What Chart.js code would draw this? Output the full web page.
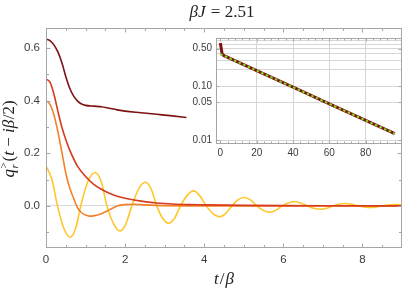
<!DOCTYPE html>
<html>
<head>
<meta charset="utf-8">
<script src="https://cdn.jsdelivr.net/npm/chart.js@4"></script>
<style>
  html, body { margin: 0; padding: 0; background: #fff; }
  #wrap { position: relative; width: 403px; height: 293px; }
  #main { position: absolute; left: 0; top: 0; }
  #inset { position: absolute; left: 180px; top: 28px; }
</style>
</head>
<body>
<div id="wrap">
  <canvas id="main" width="403" height="293"></canvas>
  <canvas id="inset" width="223" height="135"></canvas>
</div>
<script>
// --- main panel data (t/beta, q) ---
const tDark = [0, 0.1, 0.2, 0.3, 0.4, 0.5, 0.6, 0.7, 0.8, 0.9, 1.0, 1.2, 1.4, 1.6, 1.8, 2.0, 2.4, 2.8, 3.2, 3.55];
const qDark = [0.634, 0.628, 0.612, 0.585, 0.545, 0.492, 0.447, 0.417, 0.398, 0.387, 0.382, 0.379, 0.377, 0.371, 0.365, 0.360, 0.354, 0.348, 0.342, 0.336];

const tRed = [0, 0.1, 0.2, 0.3, 0.4, 0.5, 0.6, 0.8, 1.0, 1.2, 1.4, 1.6, 1.8, 2.0, 2.4, 2.8, 3.2, 3.6, 4.0, 5.0, 6.0, 7.0, 9.0];
const qRed = [0.482, 0.470, 0.425, 0.360, 0.300, 0.252, 0.212, 0.150, 0.112, 0.083, 0.063, 0.048, 0.037, 0.029, 0.018, 0.011, 0.007, 0.005, 0.004, 0.002, 0.001, 0.0005, 0.0];

const tOrange = [0, 0.1, 0.2, 0.3, 0.4, 0.5, 0.6, 0.7, 0.8, 0.9, 1.0, 1.1, 1.2, 1.4, 1.6, 1.8, 2.0, 2.2, 2.5, 3.0, 4.0, 5.0, 9.0];
const qOrange = [0.400, 0.386, 0.346, 0.282, 0.205, 0.125, 0.068, 0.028, -0.008, -0.026, -0.035, -0.039, -0.038, -0.030, -0.015, 0.000, 0.005, 0.006, 0.004, 0.001, 0.0, 0.0, 0.0];

const tYellow = [0, 0.15, 0.29, 0.45, 0.61, 0.75, 0.88, 1.05, 1.24, 1.40, 1.54, 1.71, 1.87, 2.02, 2.17, 2.34, 2.51, 2.66, 2.80,
  2.95, 3.10, 3.25, 3.40, 3.57, 3.73, 3.88, 4.05, 4.22, 4.39, 4.54, 4.70, 4.85, 5.00, 5.17, 5.33, 5.49, 5.65, 5.81, 5.97,
  6.12, 6.28, 6.44, 6.61, 6.77, 6.94, 7.10, 7.25, 7.41, 7.57, 7.73, 7.88, 8.04, 8.20, 8.36, 8.52, 8.70, 8.88, 9.0];
const qYellow = [0.152, 0.100, 0, -0.085, -0.119, -0.085, 0, 0.090, 0.127, 0.090, 0, -0.068, -0.095, -0.068, 0, 0.064, 0.090, 0.064, 0,
  -0.047, -0.066, -0.047, 0, 0.040, 0.057, 0.040, 0, -0.029, -0.041, -0.029, 0, 0.023, 0.032, 0.023, 0, -0.017, -0.024, -0.017, 0,
  0.011, 0.016, 0.011, 0, -0.009, -0.013, -0.009, 0, 0.006, 0.009, 0.006, 0, -0.004, -0.006, -0.004, 0, 0.004, 0.005, 0.004];

// --- inset (log scale) ---
const tInset = [0, 0.5, 1, 2, 20, 40, 60, 80, 96];
const qInset = [0.635, 0.50, 0.39, 0.37, 0.195, 0.096, 0.0473, 0.0233, 0.0132];
const tFit = [0, 96];
const qFit = [0.395, 0.0132];

// ticks
const xTicks = [0, 2, 4, 6, 8];
const xMinor = [0.5, 1, 1.5, 2.5, 3, 3.5, 4.5, 5, 5.5, 6.5, 7, 7.5, 8.5];
const yTicks = [0, 0.2, 0.4, 0.6];
const yMinor = [-0.1, 0.1, 0.3, 0.5];
const insetXTicks = [0, 20, 40, 60, 80];
const insetXMinor = [4, 8, 12, 16, 24, 28, 32, 36, 44, 48, 52, 56, 64, 68, 72, 76, 84, 88, 92, 96];
const insetYGrid = [0.01, 0.05, 0.1, 0.2, 0.3, 0.4, 0.5, 0.6, 0.7];
const insetYLabels = [0.01, 0.05, 0.1, 0.5];

const pts = (ts, qs) => ts.map((t, i) => ({ x: t, y: qs[i] }));

const FRAME = '#a6a6a6';
const LABEL = '#3c3c3c';
const SERIF = '"Liberation Serif", "DejaVu Serif", serif';
const SANS = '"Liberation Sans", Arial, sans-serif';

function frameTicks(chart, spec) {
    const ctx = chart.ctx;
    const a = chart.chartArea;
    const x = chart.scales.x, y = chart.scales.y;
    const L = Math.round(a.left) + 0.5, R = Math.round(a.right) - 0.5;
    const T = Math.round(a.top) + 0.5, B = Math.round(a.bottom) - 0.5;
    ctx.save();
    ctx.strokeStyle = FRAME;
    ctx.lineWidth = 1;
    ctx.strokeRect(L, T, R - L, B - T);
    ctx.beginPath();
    const xt = (vals, len) => vals.forEach(v => {
        const p = Math.round(x.getPixelForValue(v)) + 0.5;
        ctx.moveTo(p, B); ctx.lineTo(p, B - len);
        ctx.moveTo(p, T); ctx.lineTo(p, T + len);
    });
    const yt = (vals, len) => vals.forEach(v => {
        const p = Math.round(y.getPixelForValue(v)) + 0.5;
        ctx.moveTo(L, p); ctx.lineTo(L + len, p);
        ctx.moveTo(R, p); ctx.lineTo(R - len, p);
    });
    xt(spec.xMajor, spec.major); xt(spec.xMinor, spec.minor);
    yt(spec.yMajor, spec.major); yt(spec.yMinor, spec.minor);
    ctx.stroke();
    ctx.restore();
}

// draw a row of text pieces with different fonts, centred on cx
function drawRuns(ctx, runs, cx, base) {
    let total = 0;
    runs.forEach(r => {
        ctx.font = r.font;
        r.w = ctx.measureText(r.text).width;
        if (!r.stay) total += r.w + (r.gap || 0);
    });
    let x = cx - total / 2;
    ctx.textAlign = 'left';
    ctx.textBaseline = 'alphabetic';
    runs.forEach(r => {
        ctx.font = r.font;
        ctx.fillText(r.text, x, base + (r.dy || 0));
        if (!r.stay) x += r.w + (r.gap || 0);
    });
}

const labelsPlugin = {
    id: 'labels',
    afterDraw(chart) {
        const ctx = chart.ctx;
        const it = 'italic 17px ' + SERIF, up = '17px ' + SERIF;
        const itS = 'italic 11px ' + SERIF, upS = '11px ' + SERIF;
        ctx.save();
        ctx.fillStyle = '#222';
        // title
        drawRuns(ctx, [
            { text: 'β', font: it }, { text: 'J', font: it, gap: 1 },
            { text: ' = 2.51', font: up }
        ], 222, 17);
        // x title
        drawRuns(ctx, [
            { text: 't', font: it, gap: 1 }, { text: '/', font: up, gap: 1 }, { text: 'β', font: it }
        ], 224, 284);
        // y title
        ctx.translate(14, 139);
        ctx.rotate(-Math.PI / 2);
        drawRuns(ctx, [
            { text: 'q', font: it, gap: 0.5 },
            { text: 'r', font: itS, dy: 4, stay: true },
            { text: '>', font: upS, dy: -7, gap: 1 },
            { text: '(', font: up }, { text: 't', font: it },
            { text: ' − ', font: up }, { text: 'i', font: it }, { text: 'β', font: it, gap: 0.5 },
            { text: '/2)', font: up }
        ], 0, 0);
        ctx.restore();
    }
};

const mainFrame = {
    id: 'mainFrame',
    afterDatasetsDraw(chart) {
        frameTicks(chart, { xMajor: xTicks, xMinor: xMinor, yMajor: yTicks, yMinor: yMinor, major: 4, minor: 2.5 });
    }
};

const line = (data, color) => ({
    data: data, borderColor: color, borderWidth: 1.6, pointRadius: 0,
    cubicInterpolationMode: 'monotone', fill: false
});

new Chart(document.getElementById('main'), {
    type: 'line',
    data: {
        datasets: [
            line(pts(tDark, qDark), '#7d1212'),
            line(pts(tRed, qRed), '#d63c1c'),
            line(pts(tOrange, qOrange), '#f3802a'),
            line(pts(tYellow, qYellow), '#ffc62c')
        ]
    },
    options: {
        responsive: false,
        animation: false,
        layout: { padding: { top: 28, right: 1, left: 0, bottom: 0 } },
        plugins: { legend: { display: false }, tooltip: { enabled: false } },
        scales: {
            x: {
                type: 'linear', min: 0, max: 9,
                afterBuildTicks: s => { s.ticks = xTicks.map(v => ({ value: v })); },
                afterFit: s => { s.height = 45; },
                grid: { display: false, drawTicks: false },
                border: { display: false },
                ticks: { padding: 5, color: LABEL, font: { family: SANS, size: 11.5 }, maxRotation: 0, autoSkip: false, callback: v => String(v) }
            },
            y: {
                type: 'linear', min: -0.16, max: 0.676,
                afterBuildTicks: s => { s.ticks = yTicks.map(v => ({ value: v })); },
                afterFit: s => { s.width = 46; },
                grid: { drawTicks: false, color: c => (c.tick && c.tick.value === 0) ? '#dadada' : 'rgba(0,0,0,0)' },
                border: { display: false },
                ticks: { padding: 6, color: LABEL, font: { family: SANS, size: 11.5 }, autoSkip: false, callback: v => v.toFixed(1) }
            }
        }
    },
    plugins: [mainFrame, labelsPlugin]
});

const insetPlugin = {
    id: 'insetFrame',
    beforeDraw(chart) {
        const a = chart.chartArea;
        chart.ctx.save();
        chart.ctx.fillStyle = '#fff';
        chart.ctx.fillRect(a.left, a.top, a.right - a.left, a.bottom - a.top);
        chart.ctx.restore();
    },
    afterDatasetsDraw(chart) {
        frameTicks(chart, { xMajor: insetXTicks, xMinor: insetXMinor, yMajor: insetYLabels, yMinor: [], major: 3, minor: 2 });
    }
};

new Chart(document.getElementById('inset'), {
    type: 'line',
    data: {
        datasets: [
            { data: pts(tFit, qFit), borderColor: '#7ee020', borderWidth: 2, borderDash: [2.5, 2.5], pointRadius: 0, fill: false },
            { data: pts(tInset, qInset), borderColor: '#7d1212', borderWidth: 3, pointRadius: 0, fill: false }
        ]
    },
    options: {
        responsive: false,
        animation: false,
        layout: { padding: { top: 5, right: 1, left: 0, bottom: 0 } },
        plugins: { legend: { display: false }, tooltip: { enabled: false } },
        scales: {
            x: {
                type: 'linear', min: -2.4, max: 100,
                afterBuildTicks: s => { s.ticks = insetXTicks.map(v => ({ value: v })); },
                afterFit: s => { s.height = 19; },
                grid: { drawTicks: false, color: c => (c.tick && c.tick.value > 0) ? '#d6d6d6' : 'rgba(0,0,0,0)' },
                border: { display: false },
                ticks: { padding: 3, color: LABEL, font: { family: SANS, size: 10 }, maxRotation: 0, autoSkip: false, callback: v => String(v) }
            },
            y: {
                type: 'logarithmic', min: 0.0085, max: 0.783,
                afterBuildTicks: s => { s.ticks = insetYGrid.map(v => ({ value: v })); },
                afterFit: s => { s.width = 36; },
                grid: { drawTicks: false, color: '#d6d6d6' },
                border: { display: false },
                ticks: { padding: 4, color: LABEL, font: { family: SANS, size: 10 }, autoSkip: false,
                    callback: v => insetYLabels.includes(v) ? v.toFixed(2) : '' }
            }
        }
    },
    plugins: [insetPlugin]
});
</script>
</body>
</html>
